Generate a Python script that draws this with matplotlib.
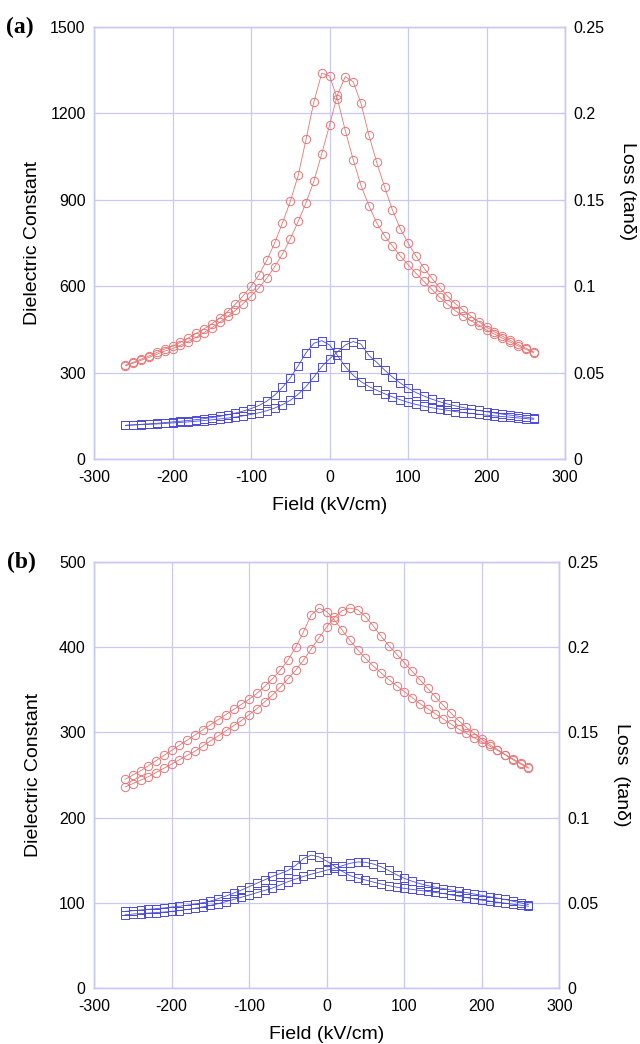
import matplotlib
matplotlib.use('Agg')
import matplotlib.pyplot as plt
from matplotlib.ticker import FuncFormatter

plt.rcParams['font.family'] = ['Liberation Sans', 'DejaVu Sans']
plt.rcParams['axes.unicode_minus'] = False

# field steps (kV/cm), same for every branch
field = list(range(-260, 261, 10))

# panel (a) - dielectric constant, two sweep branches
eps_a_down = [326, 336, 347, 358, 370, 382, 392, 405, 420, 436, 452, 470, 490, 512, 538, 567, 600,
              640, 690, 750, 820, 895, 985, 1110, 1240, 1340, 1330, 1250, 1140, 1040, 950, 880, 820,
              775, 740, 705, 675, 645, 617, 590, 562, 538, 515, 497, 480, 465, 448, 434, 420, 406,
              393, 381, 369]
eps_a_up = [324, 333, 343, 353, 364, 375, 383, 395, 408, 423, 439, 456, 475, 495, 516, 540, 566,
            595, 628, 668, 712, 765, 825, 890, 965, 1060, 1160, 1265, 1328, 1310, 1235, 1125, 1030,
            945, 865, 800, 750, 705, 664, 628, 596, 566, 540, 517, 496, 477, 458, 442, 427, 412,
            398, 385, 372]
# panel (a) - loss
loss_a_down = [0.0195, 0.0198, 0.0201, 0.0204, 0.0207, 0.0211, 0.0215, 0.0219, 0.0223, 0.0228,
               0.0234, 0.0240, 0.0247, 0.0256, 0.0266, 0.0278, 0.0292, 0.0310, 0.0335, 0.0370,
               0.0415, 0.0470, 0.0540, 0.0615, 0.0670, 0.0685, 0.0660, 0.0600, 0.0535, 0.0485,
               0.0448, 0.0420, 0.0398, 0.0378, 0.0360, 0.0343, 0.0328, 0.0316, 0.0306, 0.0297,
               0.0289, 0.0282, 0.0275, 0.0269, 0.0264, 0.0259, 0.0254, 0.0250, 0.0246, 0.0242,
               0.0238, 0.0234, 0.0230]
loss_a_up = [0.0195, 0.0197, 0.0199, 0.0201, 0.0203, 0.0206, 0.0209, 0.0212, 0.0215, 0.0219,
             0.0223, 0.0227, 0.0232, 0.0237, 0.0243, 0.0250, 0.0258, 0.0268, 0.0280, 0.0295,
             0.0315, 0.0340, 0.0375, 0.0420, 0.0475, 0.0535, 0.0580, 0.0620, 0.0660, 0.0680,
             0.0665, 0.0600, 0.0560, 0.0515, 0.0475, 0.0440, 0.0410, 0.0385, 0.0365, 0.0347,
             0.0332, 0.0319, 0.0308, 0.0298, 0.0289, 0.0281, 0.0274, 0.0267, 0.0260, 0.0254,
             0.0248, 0.0242, 0.0236]

# panel (b) - dielectric constant
eps_b_down = [245, 250, 255, 261, 267, 273, 279, 285, 291, 297, 303, 309, 315, 321, 327, 333, 339,
              346, 354, 363, 373, 385, 400, 418, 438, 446, 442, 432, 420, 408, 397, 387, 378, 370,
              362, 355, 348, 341, 334, 328, 322, 316, 310, 304, 299, 294, 289, 284, 279, 274, 269,
              264, 259]
eps_b_up = [236, 240, 244, 248, 253, 258, 263, 268, 273, 278, 284, 290, 296, 302, 308, 314, 321,
            328, 336, 344, 353, 363, 373, 385, 398, 411, 424, 435, 443, 446, 444, 436, 425, 413,
            402, 392, 382, 372, 362, 352, 342, 332, 323, 314, 306, 299, 292, 286, 280, 274, 268,
            263, 258]
# panel (b) - loss
loss_b_down = [0.0450, 0.0454, 0.0458, 0.0462, 0.0466, 0.0470, 0.0475, 0.0480, 0.0486, 0.0493,
               0.0501, 0.0510, 0.0525, 0.0540, 0.0557, 0.0575, 0.0595, 0.0615, 0.0635, 0.0655,
               0.0672, 0.0690, 0.0720, 0.0760, 0.0780, 0.0770, 0.0745, 0.0715, 0.0685, 0.0660,
               0.0645, 0.0634, 0.0622, 0.0611, 0.0601, 0.0592, 0.0585, 0.0579, 0.0573, 0.0567,
               0.0561, 0.0555, 0.0547, 0.0539, 0.0531, 0.0523, 0.0516, 0.0510, 0.0504, 0.0498,
               0.0492, 0.0486, 0.0480]
loss_b_up = [0.0430, 0.0434, 0.0437, 0.0440, 0.0443, 0.0446, 0.0450, 0.0455, 0.0461, 0.0468,
             0.0476, 0.0485, 0.0495, 0.0507, 0.0520, 0.0533, 0.0546, 0.0560, 0.0573, 0.0587,
             0.0605, 0.0624, 0.0640, 0.0655, 0.0668, 0.0680, 0.0692, 0.0702, 0.0718, 0.0732,
             0.0740, 0.0738, 0.0728, 0.0712, 0.0690, 0.0665, 0.0644, 0.0627, 0.0613, 0.0601,
             0.0592, 0.0584, 0.0576, 0.0568, 0.0560, 0.0552, 0.0544, 0.0536, 0.0528, 0.0520,
             0.0510, 0.0500, 0.0490]

x_ticks = [-300, -200, -100, 0, 100, 200, 300]
loss_ticks = [0, 0.05, 0.1, 0.15, 0.2, 0.25]

RED = '#e87474'
BLUE = '#4a4ad8'
GRID = '#c9c9f2'


def draw_panel(ax, eps_down, eps_up, loss_down, loss_up, eps_ticks, tag, loss_label, loss_y):
    ax2 = ax.twinx()
    for e in (eps_down, eps_up):
        ax.plot(field, e, '-o', color=RED, lw=0.6, ms=6, mfc='none', mec=RED, mew=0.7)
    for l in (loss_down, loss_up):
        ax2.plot(field, l, '-s', color=BLUE, lw=0.6, ms=5.5, mfc='none', mec=BLUE, mew=0.7)

    ax.set_xlim(-300, 300)
    ax.set_ylim(eps_ticks[0], eps_ticks[-1])
    ax2.set_ylim(0, 0.25)
    ax.set_xticks(x_ticks)
    ax.set_yticks(eps_ticks)
    ax2.set_yticks(loss_ticks)
    ax2.yaxis.set_major_formatter(FuncFormatter(lambda v, p: '%g' % v))
    ax.grid(True, color=GRID, lw=0.9)
    ax.set_axisbelow(True)

    for a in (ax, ax2):
        for s in a.spines.values():
            s.set_color(GRID)
            s.set_linewidth(1.0)
        a.tick_params(direction='in', color=GRID, labelsize=11.5, length=4)
    ax.tick_params(axis='x', pad=8)
    ax.tick_params(axis='y', pad=6)
    ax2.tick_params(axis='y', pad=6)

    ax.set_xlabel('Field (kV/cm)', fontsize=14)
    ax.set_ylabel('Dielectric Constant', fontsize=14)
    ax2.set_ylabel(loss_label, fontsize=14, rotation=-90, va='center')
    ax.xaxis.set_label_coords(0.5, -0.088)
    ax.yaxis.set_label_coords(-0.113, 0.5)
    ax2.yaxis.set_label_coords(1.133, loss_y)
    ax.text(-0.157, 1.0, tag, transform=ax.transAxes, fontsize=17, fontweight='bold',
            family='Liberation Serif', ha='center', va='center')


fig = plt.figure(figsize=(6.4, 10.44), dpi=100)
ax_a = fig.add_axes([0.147, 0.5603, 0.736, 0.4138])
ax_b = fig.add_axes([0.147, 0.0536, 0.727, 0.408])

draw_panel(ax_a, eps_a_down, eps_a_up, loss_a_down, loss_a_up,
           [0, 300, 600, 900, 1200, 1500], '(a)', 'Loss (tan\u03b4)', 0.62)
draw_panel(ax_b, eps_b_down, eps_b_up, loss_b_down, loss_b_up,
           [0, 100, 200, 300, 400, 500], '(b)', 'Loss  (tan\u03b4)', 0.5)

fig.savefig('out.png', dpi=100)
